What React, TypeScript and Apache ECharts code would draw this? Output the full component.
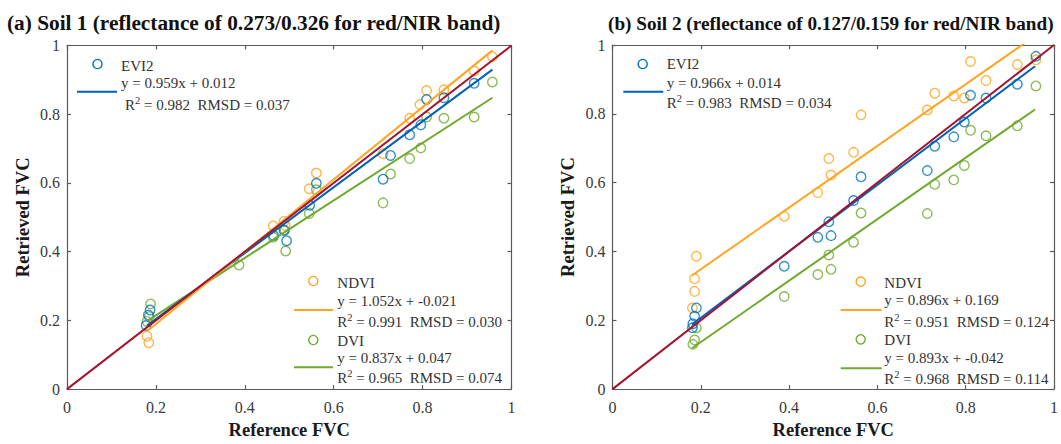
import React, { useEffect, useRef } from "react";
import * as echarts from "echarts";

const FONT = "'Liberation Serif', 'Times New Roman', serif";

// Panel titles
const titles = [
  "(a) Soil 1 (reflectance of 0.273/0.326 for red/NIR band)",
  "(b) Soil 2 (reflectance of 0.127/0.159 for red/NIR band)",
];
const xName = "Reference FVC";
const yName = "Retrieved FVC";
const seriesNames = ["EVI2", "NDVI", "DVI"];

// Soil 1 scatter data [reference, retrieved]
const soil1Evi2 = [
  [0.178, 0.185], [0.183, 0.216], [0.187, 0.23], [0.465, 0.447], [0.488, 0.462], [0.494, 0.432],
  [0.546, 0.535], [0.561, 0.599], [0.711, 0.611], [0.728, 0.68], [0.771, 0.74], [0.796, 0.769],
  [0.809, 0.843], [0.848, 0.848], [0.916, 0.89],
];
const soil1Ndvi = [
  [0.18, 0.154], [0.184, 0.135], [0.464, 0.475], [0.488, 0.488], [0.491, 0.476], [0.545, 0.583],
  [0.561, 0.629], [0.711, 0.685], [0.771, 0.788], [0.794, 0.828], [0.809, 0.869], [0.848, 0.871],
  [0.916, 0.926], [0.957, 0.967],
];
const soil1Dvi = [
  [0.188, 0.248], [0.185, 0.211], [0.18, 0.197], [0.387, 0.361], [0.464, 0.442], [0.49, 0.462],
  [0.492, 0.402], [0.545, 0.511], [0.561, 0.58], [0.711, 0.542], [0.728, 0.626], [0.771, 0.671],
  [0.796, 0.702], [0.809, 0.792], [0.848, 0.788], [0.916, 0.792], [0.957, 0.894],
];

// Soil 2 scatter data
const soil2Evi2 = [
  [0.19, 0.236], [0.186, 0.212], [0.182, 0.19], [0.181, 0.178], [0.389, 0.357], [0.465, 0.441],
  [0.49, 0.486], [0.495, 0.446], [0.546, 0.548], [0.563, 0.617], [0.713, 0.635], [0.73, 0.706],
  [0.773, 0.733], [0.797, 0.776], [0.811, 0.854], [0.846, 0.846], [0.917, 0.886], [0.959, 0.967],
];
const soil2Ndvi = [
  [0.19, 0.386], [0.186, 0.321], [0.186, 0.284], [0.181, 0.236], [0.389, 0.502], [0.465, 0.571],
  [0.49, 0.67], [0.495, 0.622], [0.546, 0.688], [0.563, 0.797], [0.713, 0.811], [0.73, 0.86],
  [0.773, 0.852], [0.797, 0.846], [0.811, 0.952], [0.846, 0.897], [0.917, 0.943], [0.959, 0.957],
];
const soil2Dvi = [
  [0.19, 0.178], [0.186, 0.143], [0.182, 0.13], [0.389, 0.269], [0.465, 0.333], [0.49, 0.39],
  [0.495, 0.348], [0.546, 0.427], [0.563, 0.512], [0.713, 0.51], [0.73, 0.595], [0.773, 0.608],
  [0.797, 0.65], [0.811, 0.752], [0.846, 0.736], [0.917, 0.765], [0.959, 0.881],
];

// Regression fits (slope, intercept) as printed, and statistics
const soil1Slopes = [0.959, 1.052, 0.837];
const soil1Intercepts = [0.012, -0.021, 0.047];
const soil1R2 = ["0.982", "0.991", "0.965"];
const soil1Rmsd = ["0.037", "0.030", "0.074"];
const soil1Eq = ["y = 0.959x + 0.012", "y = 1.052x + -0.021", "y = 0.837x + 0.047"];

const soil2Slopes = [0.966, 0.896, 0.893];
const soil2Intercepts = [0.014, 0.169, -0.042];
const soil2R2 = ["0.983", "0.951", "0.968"];
const soil2Rmsd = ["0.034", "0.124", "0.114"];
const soil2Eq = ["y = 0.966x + 0.014", "y = 0.896x + 0.169", "y = 0.893x + -0.042"];

const fitRange = [0.18, 0.957];
const oneToOne = [[0, 0], [1, 1]];

const markerColors = ["#0072BD", "#FFA51F", "#6FAA2C"];
const lineColors = ["#0061B5", "#FFA51F", "#6FAA2C"];
const refColor = "#A2142F";

const AXIS_COLOR = "#5a5a5a";
const LABEL_COLOR = "#3a3a3a";
const LEG_SIZE = 15;

function fitLine(slope: number, intercept: number) {
  return fitRange.map((x) => [x, slope * x + intercept]);
}

function legendBlock(
  idx: number,
  cx: number,
  cy: number,
  lineX1: number,
  lineX2: number,
  lineY: number,
  textX: number,
  eqY: number,
  rY: number,
  textX2: number,
  nameY: number,
  eq: string,
  r2: string,
  rmsd: string
) {
  const els: any[] = [];
  els.push({
    type: "circle",
    shape: { cx, cy, r: 4.6 },
    style: { fill: "none", stroke: markerColors[idx], lineWidth: 1.4 },
    z: 100,
  });
  els.push({
    type: "text",
    x: textX,
    y: nameY,
    style: {
      text: seriesNames[idx],
      font: `${LEG_SIZE}px ${FONT}`,
      fill: "#333",
      verticalAlign: "middle",
      align: "left",
    },
    z: 100,
  });
  els.push({
    type: "line",
    shape: { x1: lineX1, y1: lineY, x2: lineX2, y2: lineY },
    style: { stroke: lineColors[idx], lineWidth: 2 },
    z: 100,
  });
  els.push({
    type: "text",
    x: textX,
    y: eqY,
    style: {
      text: eq,
      font: `${LEG_SIZE}px ${FONT}`,
      fill: "#333",
      verticalAlign: "middle",
      align: "left",
    },
    z: 100,
  });
  els.push({
    type: "text",
    x: textX2,
    y: rY,
    style: {
      text: `{a|R}{b|2}{a| = ${r2}\u00a0\u00a0RMSD = ${rmsd}}`,
      fill: "#333",
      verticalAlign: "middle",
      align: "left",
      rich: {
        a: { fontFamily: FONT, fontSize: LEG_SIZE, fill: "#333", lineHeight: 20 },
        b: { fontFamily: FONT, fontSize: 10.5, fill: "#333", lineHeight: 10, verticalAlign: "top" },
      },
    },
    z: 100,
  });
  return els;
}

export default function App() {
  const ref = useRef<HTMLDivElement>(null);

  useEffect(() => {
    if (!ref.current) return;
    const chart = echarts.init(ref.current, undefined, { renderer: "svg" });

    const grids = [
      { left: 67, top: 45.5, width: 444.5, height: 350 },
      { left: 612.5, top: 45, width: 444, height: 350 },
    ];

    const baseAxis = {
      type: "value",
      min: 0,
      max: 1,
      interval: 0.2,
      splitLine: { show: false },
      axisLine: { show: true, onZero: false, lineStyle: { color: AXIS_COLOR, width: 1.2 } },
      axisTick: { show: true, inside: true, length: 4, lineStyle: { color: AXIS_COLOR, width: 1.2 } },
    };
    const labelStyle = { color: LABEL_COLOR, fontFamily: FONT, fontSize: 16 };
    const nameStyle = { color: "#1a1a1a", fontFamily: FONT, fontSize: 18.5, fontWeight: "bold" };

    const xAxis: any[] = [];
    const yAxis: any[] = [];
    [0, 1].forEach((g) => {
      xAxis.push({
        ...baseAxis,
        gridIndex: g,
        position: "bottom",
        name: xName,
        nameLocation: "middle",
        nameGap: 27,
        nameTextStyle: nameStyle,
        axisLabel: { ...labelStyle, margin: 10 },
      });
      xAxis.push({
        ...baseAxis,
        gridIndex: g,
        position: "top",
        axisLabel: { show: false },
      });
      yAxis.push({
        ...baseAxis,
        gridIndex: g,
        position: "left",
        name: yName,
        nameLocation: "middle",
        nameGap: 35,
        nameTextStyle: nameStyle,
        axisLabel: { ...labelStyle, margin: 7 },
      });
      yAxis.push({
        ...baseAxis,
        gridIndex: g,
        position: "right",
        axisLabel: { show: false },
      });
    });

    const scatter = (name: string, data: number[][], color: string, axisIdx: number) => ({
      type: "scatter",
      name,
      xAxisIndex: axisIdx,
      yAxisIndex: axisIdx,
      data,
      symbol: "circle",
      symbolSize: 9.5,
      itemStyle: { color: "transparent", borderColor: color, borderWidth: 1.4 },
      z: 2,
    });
    const line = (name: string, data: number[][], color: string, axisIdx: number) => ({
      type: "line",
      name,
      xAxisIndex: axisIdx,
      yAxisIndex: axisIdx,
      data,
      showSymbol: false,
      symbol: "none",
      clip: true,
      lineStyle: { color, width: 2 },
      z: 3,
    });

    const soil1Data = [soil1Evi2, soil1Ndvi, soil1Dvi];
    const soil2Data = [soil2Evi2, soil2Ndvi, soil2Dvi];
    const series: any[] = [];
    [
      { data: soil1Data, slopes: soil1Slopes, ints: soil1Intercepts, ax: 0 },
      { data: soil2Data, slopes: soil2Slopes, ints: soil2Intercepts, ax: 2 },
    ].forEach((p) => {
      [1, 2, 0].forEach((i) => {
        series.push(scatter(seriesNames[i] + " pts", p.data[i], markerColors[i], p.ax));
      });
      [2, 0, 1].forEach((i) => {
        series.push(line(seriesNames[i] + " fit", fitLine(p.slopes[i], p.ints[i]), lineColors[i], p.ax));
      });
      series.push(line("1:1", oneToOne, refColor, p.ax));
    });

    const graphic: any[] = [
      {
        type: "text",
        x: 7,
        y: 23,
        style: { text: titles[0], font: `bold 21.3px ${FONT}`, fill: "#111", verticalAlign: "middle" },
      },
      {
        type: "text",
        x: 608,
        y: 23,
        style: { text: titles[1], font: `bold 19.2px ${FONT}`, fill: "#111", verticalAlign: "middle" },
      },
      ...legendBlock(0, 97.5, 64, 77, 117, 91.7, 121, 83.3, 105, 125, 66, soil1Eq[0], soil1R2[0], soil1Rmsd[0]),
      ...legendBlock(1, 313.3, 281, 294, 333, 310, 337.3, 300.7, 321.7, 337.3, 283, soil1Eq[1], soil1R2[1], soil1Rmsd[1]),
      ...legendBlock(2, 313.3, 340, 294, 333, 367.3, 337.3, 358.3, 378.3, 337.3, 340.7, soil1Eq[2], soil1R2[2], soil1Rmsd[2]),
      ...legendBlock(0, 642.7, 64, 623.3, 663.3, 91.7, 666.7, 82.7, 103.3, 666.7, 64.3, soil2Eq[0], soil2R2[0], soil2Rmsd[0]),
      ...legendBlock(1, 860.7, 281.7, 840.7, 881.7, 310, 884.3, 300, 321.7, 884.3, 283, soil2Eq[1], soil2R2[1], soil2Rmsd[1]),
      ...legendBlock(2, 860.7, 339.3, 840.7, 881.7, 368.3, 884.3, 358.3, 379.3, 884.3, 340, soil2Eq[2], soil2R2[2], soil2Rmsd[2]),
    ];

    chart.setOption({
      animation: false,
      backgroundColor: "#ffffff",
      grid: grids,
      xAxis,
      yAxis,
      series,
      graphic,
    });

    return () => chart.dispose();
  }, []);

  return (
    <div
      ref={ref}
      style={{ position: "absolute", left: 0, top: 0, width: 1061, height: 444, background: "#fff" }}
    />
  );
}
